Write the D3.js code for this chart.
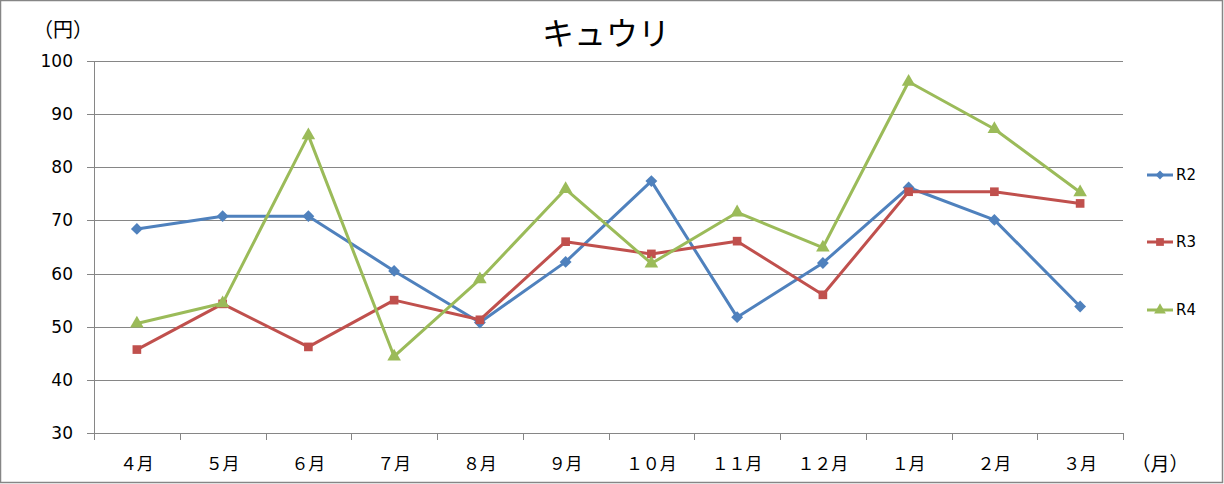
<!DOCTYPE html>
<html><head><meta charset="utf-8">
<script src="https://cdn.jsdelivr.net/npm/d3@7"></script>
<style>body{margin:0;background:#fff}svg{display:block}</style>
</head><body>
<script>
const categories = ["４月","５月","６月","７月","８月","９月","１０月","１１月","１２月","１月","２月","３月"];
const seriesNames = ["R2","R3","R4"];
const r2 = [68.4,70.8,70.8,60.5,50.8,62.2,77.4,51.8,62.0,76.2,70.1,53.8];
const r3 = [45.7,54.3,46.2,55.0,51.3,66.0,63.7,66.1,56.0,75.4,75.4,73.2];
const r4 = [50.6,54.4,86.0,44.4,58.9,75.9,61.9,71.5,64.9,96.1,87.2,75.3];
const yTicks = [30,40,50,60,70,80,90,100];
const colors = ["#4F81BD","#C0504D","#9BBB59"];
const symbols = [d3.symbolDiamond2 || d3.symbolDiamond, d3.symbolSquare, d3.symbolTriangle];

const W=1224,H=484;
const svg=d3.select("body").append("svg").attr("width",W).attr("height",H);
svg.append("rect").attr("x",0.5).attr("y",0.5).attr("width",W-2).attr("height",H-2).attr("fill","#fff").attr("stroke","#868686").attr("stroke-width",1.5);

const x=d3.scaleBand().domain(categories).range([94,1123]);
const y=d3.scaleLinear().domain([30,100]).range([433,61]);
const grid="#868686";

svg.append("g").selectAll("line").data(yTicks).join("line")
 .attr("x1",87).attr("x2",1123).attr("y1",d=>Math.round(y(d))+0.5).attr("y2",d=>Math.round(y(d))+0.5)
 .attr("stroke",grid).attr("stroke-width",1);
svg.append("line").attr("x1",94.5).attr("x2",94.5).attr("y1",61).attr("y2",440).attr("stroke",grid);
const bounds=categories.map(c=>x(c)).concat([x.range()[1]]);
svg.append("g").selectAll("line").data(bounds).join("line")
 .attr("x1",d=>Math.round(d)+0.5).attr("x2",d=>Math.round(d)+0.5).attr("y1",433).attr("y2",440).attr("stroke",grid);

svg.append("g").selectAll("text").data(yTicks).join("text")
 .attr("x",73).attr("y",d=>y(d)).attr("dy","0.35em").attr("text-anchor","end")
 .attr("font-family","DejaVu Sans, sans-serif").attr("font-size",17).attr("fill","#000").text(d=>d);
svg.append("text").attr("x",63).attr("y",37).attr("text-anchor","middle")
 .attr("font-family","Noto Sans CJK JP").attr("font-size",20).text("（円）");

svg.append("g").selectAll("text").data(categories).join("text")
 .attr("x",d=>x(d)+x.bandwidth()/2).attr("y",470).attr("text-anchor","middle")
 .attr("font-family","Noto Sans CJK JP").attr("font-size",17).text(d=>d);
svg.append("text").attr("x",1160).attr("y",471).attr("text-anchor","middle")
 .attr("font-family","Noto Sans CJK JP").attr("font-size",19).text("（月）");

svg.append("text").attr("x",606).attr("y",45).attr("text-anchor","middle")
 .attr("font-family","Noto Sans CJK JP").attr("font-size",32).text("キュウリ");

const data=[r2,r3,r4];
const cx=i=>x(categories[i])+x.bandwidth()/2;
const line=d3.line().x((d,i)=>cx(i)).y(d=>y(d));
const sizes=[90,75,80];
data.forEach((vals,k)=>{
  svg.append("path").datum(vals).attr("d",line).attr("fill","none").attr("stroke",colors[k]).attr("stroke-width",3).attr("stroke-linejoin","round");
  svg.append("g").selectAll("path").data(vals).join("path")
   .attr("transform",(d,i)=>`translate(${cx(i)},${y(d)})`)
   .attr("d",d3.symbol().type(symbols[k]).size(sizes[k])).attr("fill",colors[k]);
});

const legY=[175,242,310];
seriesNames.forEach((n,k)=>{
  const g=svg.append("g");
  g.append("line").attr("x1",1147).attr("x2",1173).attr("y1",legY[k]).attr("y2",legY[k]).attr("stroke",colors[k]).attr("stroke-width",3);
  g.append("path").attr("transform",`translate(1160,${legY[k]})`).attr("d",d3.symbol().type(symbols[k]).size(k==0?50:60)).attr("fill",colors[k]);
  g.append("text").attr("x",1176).attr("y",legY[k]).attr("dy","0.35em").attr("font-family","DejaVu Sans, sans-serif").attr("font-size",15).text(n);
});
</script>
</body></html>
